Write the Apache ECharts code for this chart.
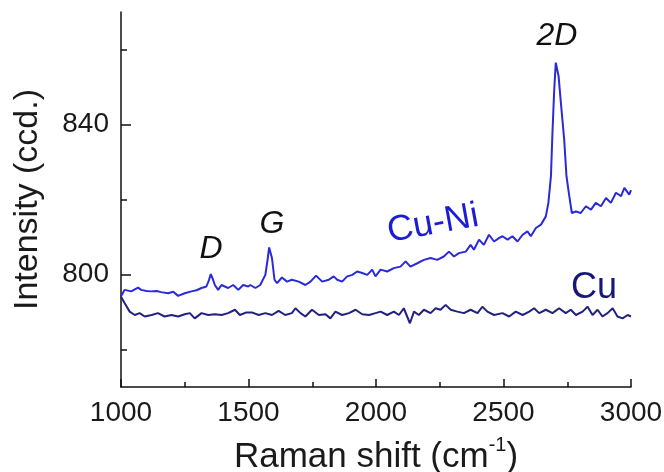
<!DOCTYPE html>
<html>
<head>
<meta charset="utf-8">
<script src="https://cdn.jsdelivr.net/npm/echarts@6/dist/echarts.min.js"></script>
<style>
  html, body { margin: 0; padding: 0; background: #fff; }
  #chart { width: 664px; height: 472px; }
</style>
</head>
<body>
<div id="chart"></div>
<script>
// Raman spectra
const cuNiShift = [1000, 1014, 1040, 1067, 1079, 1100, 1118, 1140, 1157, 1185, 1205, 1224, 1250, 1276, 1296, 1316, 1335, 1345, 1352, 1360, 1368, 1381, 1394, 1420, 1440, 1460, 1479, 1499, 1507, 1527, 1546, 1566, 1575, 1581, 1592, 1602, 1612, 1631, 1651, 1670, 1697, 1723, 1743, 1765, 1789, 1815, 1834, 1848, 1867, 1887, 1907, 1926, 1946, 1966, 1985, 1998, 2018, 2044, 2070, 2096, 2116, 2135, 2162, 2188, 2214, 2240, 2266, 2286, 2306, 2325, 2352, 2371, 2384, 2404, 2423, 2443, 2463, 2482, 2496, 2516, 2535, 2555, 2575, 2594, 2607, 2627, 2647, 2666, 2676, 2686, 2692, 2699, 2705, 2716, 2725, 2738, 2747, 2758, 2768, 2784, 2803, 2823, 2843, 2862, 2882, 2902, 2921, 2941, 2961, 2974, 2993, 3000];
const cuNiIntensity = [794.2, 795.9, 795.5, 796.5, 795.9, 795.6, 795.5, 795.6, 795.3, 795.0, 795.4, 794.3, 795.0, 795.5, 795.8, 796.4, 796.8, 798.5, 800.1, 798.8, 797.2, 795.9, 797.2, 796.4, 797.2, 795.9, 797.2, 796.8, 797.2, 796.4, 797.2, 799.9, 804.0, 807.2, 804.4, 798.6, 797.7, 799.2, 798.1, 798.6, 798.1, 797.2, 798.1, 799.7, 798.1, 798.6, 799.5, 798.6, 798.1, 799.5, 799.9, 800.8, 800.4, 799.9, 801.3, 799.5, 801.3, 800.8, 801.7, 802.1, 803.5, 802.1, 803.0, 803.9, 804.4, 803.9, 804.8, 806.1, 804.8, 805.7, 806.1, 807.9, 806.6, 809.3, 807.9, 810.6, 808.8, 809.7, 810.2, 809.3, 810.2, 808.8, 810.6, 811.5, 810.2, 812.4, 813.3, 815.5, 819.1, 826.2, 837.8, 849.4, 856.5, 852.9, 845.8, 836.0, 826.2, 820.9, 816.4, 816.8, 816.4, 818.2, 817.3, 819.1, 818.2, 820.4, 819.1, 821.8, 820.9, 823.1, 821.3, 822.5];

const cuShift = [1000, 1014, 1034, 1054, 1073, 1093, 1120, 1145, 1171, 1198, 1224, 1250, 1270, 1289, 1316, 1342, 1368, 1394, 1420, 1447, 1466, 1492, 1513, 1540, 1566, 1592, 1618, 1644, 1670, 1684, 1704, 1723, 1749, 1776, 1802, 1821, 1841, 1867, 1894, 1920, 1946, 1973, 1998, 2018, 2044, 2070, 2090, 2109, 2133, 2149, 2168, 2188, 2214, 2234, 2253, 2273, 2293, 2319, 2345, 2371, 2398, 2417, 2437, 2463, 2496, 2522, 2548, 2575, 2601, 2620, 2640, 2666, 2692, 2718, 2744, 2764, 2784, 2810, 2830, 2849, 2869, 2888, 2908, 2928, 2947, 2967, 2987, 3000];
const cuIntensity = [794.1, 792.4, 790.1, 789.2, 789.7, 788.8, 789.2, 789.7, 788.8, 789.2, 788.8, 789.4, 789.7, 788.3, 789.7, 789.2, 789.4, 789.2, 789.7, 790.6, 789.2, 789.9, 789.9, 789.2, 789.7, 789.2, 790.3, 789.2, 789.7, 791.0, 789.7, 788.8, 790.6, 789.2, 789.4, 788.3, 790.1, 789.2, 789.7, 790.6, 789.4, 789.2, 789.7, 790.1, 789.2, 790.1, 789.2, 791.0, 787.0, 790.1, 789.2, 790.6, 789.7, 791.0, 790.6, 791.9, 790.6, 790.1, 789.7, 790.6, 789.7, 791.4, 790.1, 789.2, 789.7, 788.8, 790.1, 789.2, 790.1, 791.0, 789.7, 790.6, 789.7, 791.0, 789.7, 790.6, 789.2, 790.1, 791.4, 789.2, 790.6, 788.8, 789.7, 791.0, 788.8, 788.3, 789.2, 788.8];

const xTicks = [1000, 1500, 2000, 2500, 3000];
const yMajorTicks = [800, 840];
const yMinorTicks = [780, 820, 860];

const font = "'Liberation Sans', Arial, sans-serif";
const zip = (xs, ys) => xs.map((x, i) => [x, ys[i]]);

const myChart = echarts.init(document.getElementById('chart'));
const option = {
  backgroundColor: '#fff',
  animation: false,
  grid: {
    left: 121,
    right: 33,
    top: 12,
    bottom: 85,
    outerBoundsMode: 'none',
  },
  xAxis: {
    type: 'value',
    min: 1000,
    max: 3000,
    interval: 500,
    name: '{a|Raman shift (cm}{s|-1}{a|)}',
    nameLocation: 'middle',
    nameGap: 48,
    nameTextStyle: {
      rich: {
        a: { fontSize: 35, fontFamily: font, color: '#1a1a1a', verticalAlign: 'bottom', lineHeight: 40 },
        s: { fontSize: 20, fontFamily: font, color: '#1a1a1a', verticalAlign: 'top', lineHeight: 40 },
      },
    },
    axisLine: { show: true, lineStyle: { color: '#111', width: 1.5 } },
    axisTick: { inside: true, length: 8, lineStyle: { color: '#111', width: 1.5 } },
    minorTick: { show: true, splitNumber: 2, length: 5, lineStyle: { color: '#111', width: 1.5 } },
    axisLabel: {
      margin: 12,
      fontSize: 28,
      fontFamily: font,
      color: '#1a1a1a',
      formatter: v => (xTicks.indexOf(v) >= 0 ? String(v) : ''),
    },
    splitLine: { show: false },
  },
  yAxis: [{
    type: 'value',
    min: 770,
    max: 870,
    position: 'left',
    name: 'Intensity (ccd.)',
    nameLocation: 'middle',
    nameGap: 76,
    nameTextStyle: { fontSize: 34, fontFamily: font, color: '#1a1a1a' },
    axisLine: { show: true, lineStyle: { color: '#111', width: 1.5 } },
    axisTick: { inside: true, length: 10, customValues: yMajorTicks, lineStyle: { color: '#111', width: 1.5 } },
    axisLabel: { margin: 12, fontSize: 28, fontFamily: font, color: '#1a1a1a', customValues: yMajorTicks },
    splitLine: { show: false },
  }, {
    type: 'value',
    min: 770,
    max: 870,
    position: 'left',
    axisLine: { show: false },
    axisTick: { inside: true, length: 6, customValues: yMinorTicks, lineStyle: { color: '#111', width: 1.5 } },
    axisLabel: { show: false },
    splitLine: { show: false },
  }],
  series: [{
    name: 'Cu-Ni',
    type: 'line',
    showSymbol: false,
    data: zip(cuNiShift, cuNiIntensity),
    lineStyle: { color: '#2a2ad8', width: 2 },
  }, {
    name: 'Cu',
    type: 'line',
    showSymbol: false,
    data: zip(cuShift, cuIntensity),
    lineStyle: { color: '#22227e', width: 2 },
  }],
  graphic: [
    { type: 'text', x: 211, y: 249, style: { text: 'D', font: 'italic 32px ' + font, fill: '#111', align: 'center', verticalAlign: 'middle' } },
    { type: 'text', x: 272, y: 224, style: { text: 'G', font: 'italic 32px ' + font, fill: '#111', align: 'center', verticalAlign: 'middle' } },
    { type: 'text', x: 557, y: 36, style: { text: '2D', font: 'italic 32px ' + font, fill: '#111', align: 'center', verticalAlign: 'middle' } },
    { type: 'text', x: 433, y: 224, rotation: 0.18, style: { text: 'Cu-Ni', font: '36px ' + font, fill: '#1c1cd4', align: 'center', verticalAlign: 'middle' } },
    { type: 'text', x: 594, y: 288, style: { text: 'Cu', font: '36px ' + font, fill: '#17177a', align: 'center', verticalAlign: 'middle' } },
  ],
};
myChart.setOption(option);
</script>
</body>
</html>
